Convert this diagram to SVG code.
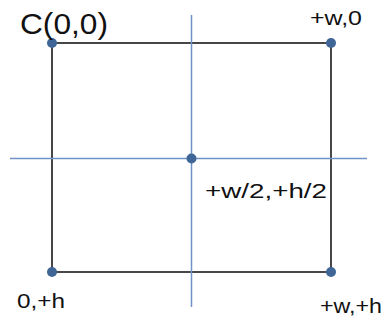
<svg xmlns="http://www.w3.org/2000/svg" width="386" height="321" viewBox="0 0 386 321">
<style>
.axis{stroke:#6f93c4;stroke-width:1.5;fill:none}
.box{stroke:#1a1a1a;stroke-width:1.6;fill:none}
.dot{fill:#3f6697}
.lbl{font-family:"Liberation Sans",Arial,sans-serif;fill:#111}
</style>
<rect width="386" height="321" fill="#fff"/>
<g id="connectors">
<rect class="box" x="52" y="43" width="279" height="229"/>
<line class="axis" x1="10" y1="158.5" x2="367" y2="158.5"/>
<line class="axis" x1="191.5" y1="15" x2="191.5" y2="307"/>
</g>
<g id="topLeft"><circle class="dot" cx="52" cy="43" r="5"/><text class="lbl" x="20" y="34" font-size="29" textLength="88" lengthAdjust="spacingAndGlyphs">C(0,0)</text></g>
<g id="topRight"><circle class="dot" cx="331" cy="43" r="5"/><text class="lbl" x="310" y="25" font-size="21" textLength="52" lengthAdjust="spacingAndGlyphs">+w,0</text></g>
<g id="center"><circle class="dot" cx="191.5" cy="158.5" r="5"/><text class="lbl" x="205" y="198" font-size="21" textLength="122" lengthAdjust="spacingAndGlyphs">+w/2,+h/2</text></g>
<g id="bottomLeft"><circle class="dot" cx="52" cy="272" r="5"/><text class="lbl" x="17" y="308" font-size="21" textLength="48" lengthAdjust="spacingAndGlyphs">0,+h</text></g>
<g id="bottomRight"><circle class="dot" cx="331" cy="272" r="5"/><text class="lbl" x="320" y="313" font-size="21" textLength="62" lengthAdjust="spacingAndGlyphs">+w,+h</text></g>
</svg>
